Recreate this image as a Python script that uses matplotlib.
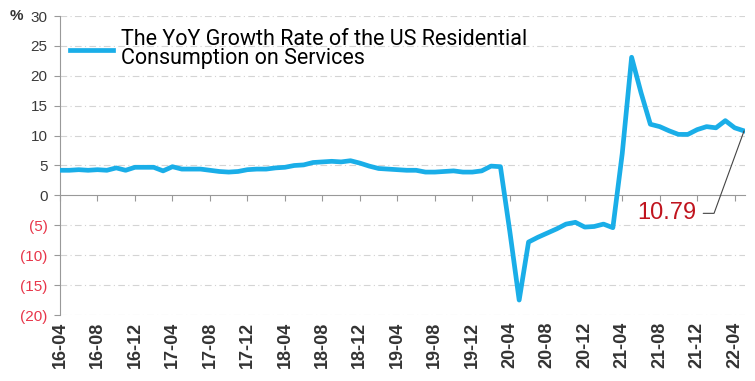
import matplotlib
matplotlib.use("Agg")
import matplotlib.pyplot as plt
import pandas as pd

# monthly YoY growth, 2016-04 .. 2022-05
months = pd.period_range("2016-04", "2022-05", freq="M").strftime("%y-%m").tolist()
growth = [4.2, 4.2, 4.3, 4.2, 4.3, 4.2, 4.6, 4.2, 4.7, 4.7, 4.7, 4.1,
          4.8, 4.4, 4.4, 4.4, 4.2, 4.0, 3.9, 4.0, 4.3, 4.4, 4.4, 4.6,
          4.7, 5.0, 5.1, 5.5, 5.6, 5.7, 5.6, 5.8, 5.4, 4.9, 4.5, 4.4,
          4.3, 4.2, 4.2, 3.9, 3.9, 4.0, 4.1, 3.9, 3.9, 4.1, 4.9, 4.8,
          -6.0, -17.5, -7.8, -7.0, -6.3, -5.6, -4.8, -4.5, -5.3, -5.2, -4.8, -5.4,
          7.0, 23.1, 17.2, 11.9, 11.5, 10.8, 10.2, 10.2, 11.0, 11.5, 11.3, 12.5,
          11.3, 10.79]
tick_labels = ["16-04", "16-08", "16-12", "17-04", "17-08", "17-12", "18-04",
               "18-08", "18-12", "19-04", "19-08", "19-12", "20-04", "20-08",
               "20-12", "21-04", "21-08", "21-12", "22-04"]
y_ticks = [30, 25, 20, 15, 10, 5, 0, -5, -10, -15, -20]
series_name = "The YoY Growth Rate of the US Residential\nConsumption on Services"

blue = "#1aaee8"
red_lbl = "#e8364a"
x = list(range(len(months)))
tick_pos = [months.index(t) for t in tick_labels]

fig = plt.figure(figsize=(7.55, 3.81), dpi=100)
ax = fig.add_axes([60 / 755, 1 - 315 / 381, 685 / 755, 299 / 381])

for v in y_ticks:
    if v != 0:
        ax.axhline(v, color="#d4d4d4", lw=0.8, ls=(0, (6, 3, 1, 3)), zorder=0)

ax.plot(x, growth, color=blue, lw=3.4, solid_joinstyle="round", label=series_name, zorder=3)

ax.set_xlim(0, 73.1)
ax.set_ylim(-20, 30)
ax.set_yticks(y_ticks)
ax.set_yticklabels([str(v) if v >= 0 else "(%d)" % -v for v in y_ticks],
                   fontsize=11, family="Liberation Sans")
for lbl, v in zip(ax.get_yticklabels(), y_ticks):
    lbl.set_color("#3a3a3a" if v >= 0 else red_lbl)
ax.tick_params(axis="y", length=4, color="#999999", pad=5)

for s in ["top", "right"]:
    ax.spines[s].set_visible(False)
ax.spines["left"].set_color("#999999")
ax.spines["bottom"].set_position(("data", 0))
ax.spines["bottom"].set_color("#999999")
ax.set_xticks(tick_pos)
ax.tick_params(axis="x", length=4, color="#999999", labelbottom=False)

sec = ax.secondary_xaxis("bottom")
sec.set_xticks(tick_pos, tick_labels, rotation=90, fontsize=13, fontweight="bold",
               family="Liberation Sans", color="#333333")
sec.tick_params(length=0, pad=5)
sec.spines["bottom"].set_visible(False)

leg = ax.legend(loc="upper left", bbox_to_anchor=(10 / 685, 0.955), frameon=False,
                handlelength=2.0, handletextpad=0.37, borderaxespad=0, borderpad=0,
                prop={"family": "Roboto", "size": 15.5})
for t in leg.get_texts():
    t.set_linespacing(0.85)

ax.annotate("10.79", xy=(x[-1], growth[-1]), xytext=(67.9, -3.0),
            ha="right", va="center", fontsize=17, color="#c0141e",
            family="Liberation Sans",
            arrowprops=dict(arrowstyle="-", color="#444444", lw=0.8,
                            relpos=(1, 0.5), shrinkA=3, shrinkB=0,
                            connectionstyle="angle,angleA=0,angleB=70,rad=0"))

fig.text(10 / 755, 1 - 16 / 381, "%", fontsize=11, fontweight="bold",
         color="#333333", va="center", family="Liberation Sans")

fig.savefig("out.png", dpi=100)
